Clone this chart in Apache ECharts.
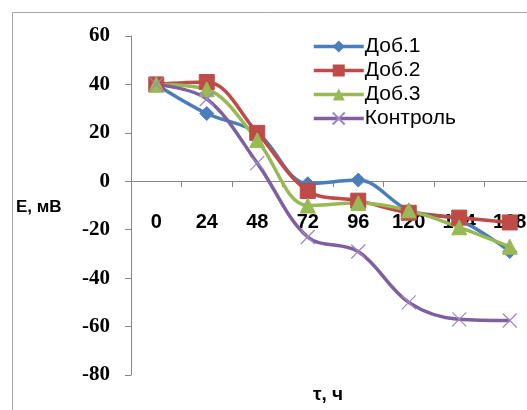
<!DOCTYPE html>
<html>
<head>
<meta charset="utf-8">
<script src="https://cdn.jsdelivr.net/npm/echarts@6/dist/echarts.min.js"></script>
<style>
  html, body { margin: 0; padding: 0; background: #fff; }
  #chart { width: 527px; height: 410px; }
</style>
</head>
<body>
<div id="chart"></div>
<script>
// time, hours
const hours = ['0', '24', '48', '72', '96', '120', '144', '168'];
// E, mV
const dob1 = [40, 28, 20, -1, 0.5, -12, -16, -29];
const dob2 = [40, 41, 20, -4, -8, -13, -15, -17];
const dob3 = [40, 38, 17, -10, -9, -12, -19, -27];
const control = [40, 34, 7.5, -23, -29, -50, -57, -57.5];

const xMark = 'path://M0,0 L10,10 M10,0 L0,10';
const sans = '"Liberation Sans", Arial, sans-serif';
const serif = '"Liberation Serif", "DejaVu Serif", serif';

const myChart = echarts.init(document.getElementById('chart'));

const mkSeries = (name, data, color, symbol, size) => ({
  name: name,
  type: 'line',
  data: data,
  smooth: 0.35,
  symbol: symbol,
  symbolSize: size,
  lineStyle: { color: color, width: 3.5 },
  itemStyle: symbol === xMark
    ? { color: 'transparent', borderColor: '#9d88c0', borderWidth: 1.2 }
    : { color: color, borderColor: color },
  color: color,
  z: 2
});

myChart.setOption({
  animation: false,
  backgroundColor: '#ffffff',
  graphic: [
    {
      type: 'rect',
      shape: { x: 12.5, y: 12.5, width: 540, height: 420 },
      style: { fill: 'none', stroke: '#a6a6a6', lineWidth: 1 }
    },
    {
      type: 'text', left: 16, top: 199,
      style: { text: 'E, мВ', font: 'bold 17px ' + sans, fill: '#000' }
    },
    {
      type: 'text', left: 313, top: 385,
      style: { text: 'τ, ч', font: 'bold 19px ' + sans, fill: '#000' }
    }
  ],
  legend: {
    orient: 'vertical',
    left: 307,
    top: 31,
    itemWidth: 50,
    itemHeight: 15,
    itemGap: 3,
    lineStyle: { width: 3.5 },
    textStyle: { fontSize: 21, fontFamily: sans, color: '#000', padding: [0, 0, 0, -4] },
    data: ['Доб.1', 'Доб.2', 'Доб.3', 'Контроль']
  },
  grid: { left: 131, right: -8, top: 36, bottom: 35, containLabel: false, outerBoundsMode: 'none' },
  xAxis: {
    type: 'category',
    data: hours,
    boundaryGap: true,
    position: 'bottom',
    offset: -194,
    axisLine: { onZero: false, lineStyle: { color: '#868686', width: 1 } },
    axisTick: { show: true, length: 6, lineStyle: { color: '#868686' } },
    axisLabel: { margin: 31, fontSize: 20, fontWeight: 'bold', fontFamily: sans, color: '#000' }
  },
  yAxis: {
    type: 'value',
    min: -80,
    max: 60,
    interval: 20,
    splitLine: { show: false },
    axisLine: { show: true, lineStyle: { color: '#868686', width: 1 } },
    axisTick: { show: true, length: 6, lineStyle: { color: '#868686' } },
    axisLabel: { margin: 21, fontSize: 21, fontWeight: 'bold', fontFamily: serif, color: '#000' }
  },
  series: [
    mkSeries('Доб.1', dob1, '#4a7ebb', 'diamond', 14),
    mkSeries('Доб.2', dob2, '#be4b48', 'rect', 15),
    mkSeries('Доб.3', dob3, '#98b954', 'triangle', 15),
    mkSeries('Контроль', control, '#7d60a0', xMark, 14)
  ]
});
</script>
</body>
</html>
